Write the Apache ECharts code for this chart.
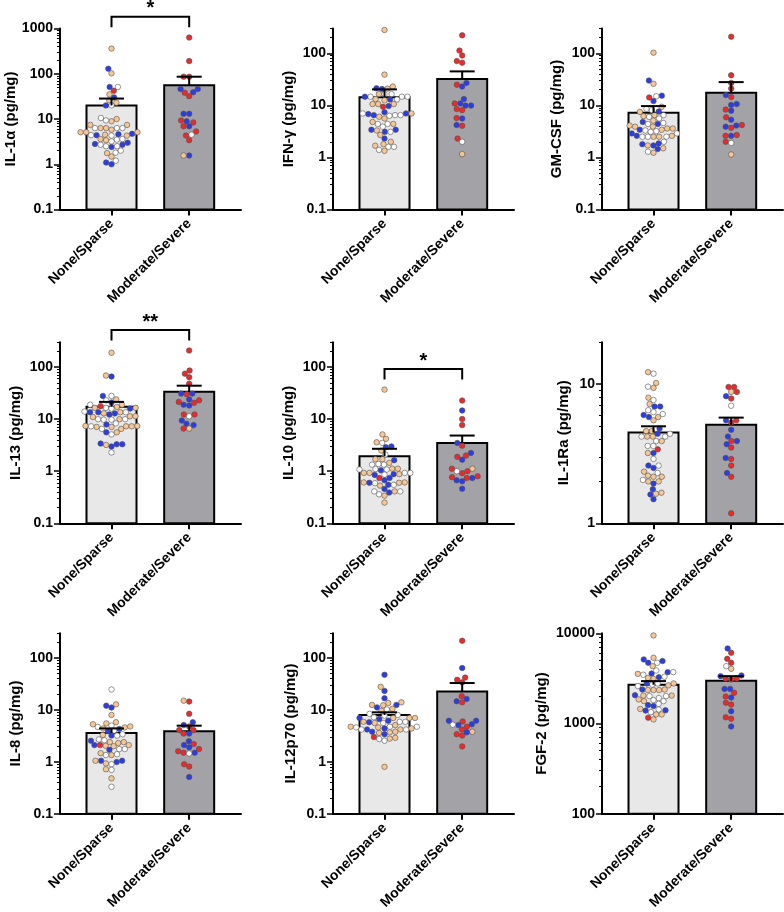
<!DOCTYPE html>
<html><head><meta charset="utf-8">
<script src="https://cdn.jsdelivr.net/npm/echarts@6/dist/echarts.min.js"></script>
<style>html,body{margin:0;padding:0;background:#fff}#c{width:784px;height:912px}</style>
</head><body><div id="c"></div>
<script>
// ---------------- DATA ----------------
const categories = ['None/Sparse', 'Moderate/Severe'];
const panelTitles = ['IL-1α (pg/mg)', 'IFN-γ (pg/mg)', 'GM-CSF (pg/mg)', 'IL-13 (pg/mg)', 'IL-10 (pg/mg)', 'IL-1Ra (pg/mg)', 'IL-8 (pg/mg)', 'IL-12p70 (pg/mg)', 'FGF-2 (pg/mg)'];
const yMin = [0.1, 0.1, 0.1, 0.1, 0.1, 1, 0.1, 0.1, 100];
const yMax = [1000, 300, 300, 300, 300, 20, 300, 300, 10000];
const yTickLabels = [
  [0.1, 1, 10, 100, 1000], [0.1, 1, 10, 100], [0.1, 1, 10, 100],
  [0.1, 1, 10, 100], [0.1, 1, 10, 100], [1, 10],
  [0.1, 1, 10, 100], [0.1, 1, 10, 100], [100, 1000, 10000]
];
const meanValues = [[20, 56], [14.3, 32], [7.2, 17.5], [17.3, 33.6], [1.94, 3.5], [4.5, 5.1], [3.6, 3.9], [8.0, 22.6], [2690, 2970]];
const semTopValues = [[28.3, 86], [20.3, 45], [9.7, 28], [21.5, 44], [2.7, 4.85], [4.98, 5.75], [4.4, 4.97], [9.0, 33], [2950, 3350]];
const sigPanel = [0, 3, 4];
const sigLabel = ['*', '**', '*'];
const sigLevel = [1820, 517, 92];
// subgroup codes: T tan, B blue, W white, R red
const il1aNone = [[360,'T'],[129,'B'],[102,'T'],[51,'B'],[51,'W'],[42,'R'],[35,'T'],[30,'B'],[26,'T'],[23,'T'],[20,'W'],[20,'B'],[10,'T'],[8.9,'T'],[10.5,'W'],[9.3,'W'],[7.4,'T'],[6.3,'T'],[6.3,'W'],[6.3,'T'],[6.3,'W'],[7.4,'T'],[6.3,'W'],[5.1,'T'],[4.6,'B'],[4.4,'B'],[4.3,'W'],[4.4,'W'],[4.5,'T'],[4.7,'B'],[5.1,'T'],[5.1,'T'],[5.8,'T'],[4.3,'T'],[3.5,'W'],[3.2,'W'],[3.6,'W'],[2.8,'B'],[3.4,'T'],[2.7,'W'],[3.0,'B'],[2.7,'B'],[3.6,'T'],[2.4,'B'],[2.5,'W'],[2.5,'W'],[1.8,'W'],[2.0,'W'],[1.76,'T'],[1.48,'T'],[1.2,'W'],[1.0,'B'],[1.09,'B']];
const il1aMod = [[631,'R'],[191,'R'],[86,'R'],[86,'R'],[39,'B'],[38,'R'],[46,'B'],[46,'B'],[32,'R'],[13,'B'],[13,'B'],[8.9,'B'],[9.3,'R'],[8.4,'R'],[6.9,'B'],[6.9,'R'],[5.3,'R'],[4.5,'W'],[4.3,'R'],[3.4,'R'],[1.56,'B'],[1.56,'T']];
const ifngNone = [[281,'T'],[39,'T'],[23,'T'],[21,'T'],[20.6,'B'],[21.3,'B'],[16.5,'W'],[14.7,'W'],[16.5,'T'],[16.5,'W'],[14.7,'W'],[13,'B'],[14.7,'B'],[14.7,'W'],[13,'W'],[13.2,'T'],[12.5,'T'],[10.6,'T'],[10.6,'T'],[9.7,'B'],[10.6,'T'],[9.4,'R'],[7.4,'B'],[6.8,'B'],[6.5,'W'],[6.5,'B'],[6.05,'T'],[6.5,'W'],[7,'B'],[7,'W'],[7,'T'],[6.3,'W'],[5.6,'T'],[4.4,'W'],[4.4,'W'],[4.4,'T'],[4.8,'T'],[3.9,'W'],[3.4,'B'],[3.1,'B'],[3.1,'W'],[3.4,'B'],[3.3,'T'],[2.3,'B'],[2.7,'T'],[2.0,'T'],[1.8,'T'],[1.6,'W'],[1.68,'T'],[1.6,'W'],[1.34,'T'],[1.4,'W']];
const ifngMod = [[222,'R'],[113,'R'],[91,'R'],[66,'R'],[71,'R'],[27,'B'],[23,'B'],[25,'R'],[9.9,'B'],[10.9,'B'],[10.9,'R'],[13.2,'B'],[9.9,'B'],[8.5,'R'],[8.1,'R'],[5.7,'R'],[5.6,'B'],[4.2,'B'],[4.06,'R'],[2.3,'R'],[2.0,'W'],[1.16,'T']];
const gmcsfNone = [[103,'T'],[30,'B'],[26,'T'],[15.4,'B'],[15,'W'],[12.1,'B'],[14.2,'R'],[9.4,'T'],[8.1,'W'],[8.6,'W'],[7.5,'T'],[7.6,'B'],[6.5,'T'],[6.0,'W'],[6.2,'T'],[6.5,'W'],[4.6,'W'],[4.8,'B'],[5.6,'W'],[4.4,'B'],[4.4,'W'],[5.1,'T'],[4.1,'T'],[3.9,'T'],[3.9,'T'],[3.6,'T'],[3.6,'T'],[3.4,'T'],[3.4,'B'],[3.3,'W'],[3.2,'W'],[2.9,'B'],[2.9,'W'],[3.1,'W'],[2.6,'B'],[2.5,'T'],[2.6,'T'],[2.5,'W'],[2.5,'T'],[2.5,'W'],[2.5,'W'],[2.0,'W'],[1.7,'B'],[1.86,'B'],[1.8,'B'],[1.7,'T'],[1.5,'T'],[1.45,'B'],[1.29,'W'],[1.23,'T']];
const gmcsfMod = [[209,'R'],[38,'R'],[27,'R'],[21,'R'],[15.8,'B'],[14.5,'R'],[10.6,'B'],[10.2,'B'],[7.9,'B'],[8.3,'R'],[5.9,'R'],[5.3,'B'],[3.9,'B'],[3.7,'R'],[4.2,'R'],[4.1,'B'],[2.7,'R'],[2.6,'B'],[2.6,'R'],[2.0,'R'],[1.9,'W'],[1.14,'T']];
const il13None = [[189,'T'],[69,'T'],[66,'B'],[28,'W'],[28,'B'],[21,'B'],[24,'T'],[23,'W'],[19,'T'],[17.8,'R'],[16,'W'],[16.5,'W'],[19,'W'],[16.5,'T'],[16.5,'T'],[17.2,'T'],[16,'B'],[13.6,'T'],[13.6,'B'],[13,'T'],[12.9,'B'],[14,'W'],[13.6,'W'],[13.6,'B'],[12.3,'B'],[10,'T'],[9.8,'W'],[10,'W'],[11.4,'T'],[11,'T'],[11.4,'T'],[9.8,'W'],[10,'W'],[8.3,'W'],[7.9,'B'],[7.1,'T'],[7.4,'T'],[6.5,'W'],[7.1,'T'],[7.3,'T'],[7.3,'T'],[7.3,'W'],[7.4,'T'],[6.5,'T'],[5.6,'B'],[5.6,'T'],[5.1,'W'],[3.4,'B'],[3.3,'B'],[3.3,'B'],[3.0,'B'],[3.2,'T'],[2.3,'W']];
const il13Mod = [[209,'R'],[86,'R'],[75,'R'],[64,'R'],[48,'R'],[30,'R'],[31,'B'],[31,'B'],[24,'B'],[23,'R'],[20.6,'R'],[21.5,'R'],[18.3,'B'],[19,'B'],[12.3,'R'],[11.4,'W'],[12.3,'R'],[9.4,'B'],[7.7,'B'],[8.2,'B'],[6.6,'T'],[6.6,'R']];
const il10None = [[37,'T'],[5.1,'T'],[4.2,'T'],[3.6,'T'],[3.5,'W'],[3.0,'B'],[2.9,'B'],[2.5,'T'],[2.1,'W'],[1.7,'T'],[1.7,'T'],[1.63,'B'],[1.45,'T'],[1.34,'W'],[1.38,'W'],[1.34,'W'],[1.12,'T'],[1.08,'W'],[1.1,'W'],[1.04,'B'],[1.08,'W'],[1.12,'T'],[0.88,'B'],[0.88,'T'],[0.86,'W'],[0.93,'T'],[0.93,'W'],[0.93,'T'],[0.93,'W'],[0.85,'B'],[0.744,'B'],[0.67,'B'],[0.61,'T'],[0.6,'T'],[0.61,'T'],[0.6,'B'],[0.59,'W'],[0.55,'B'],[0.55,'W'],[0.74,'R'],[0.53,'T'],[0.457,'B'],[0.41,'T'],[0.41,'W'],[0.41,'W'],[0.36,'W'],[0.39,'B'],[0.34,'T'],[0.25,'T']];
const il10Mod = [[22.8,'R'],[14.7,'B'],[10.1,'R'],[7.7,'R'],[3.5,'B'],[3.1,'R'],[2.0,'R'],[1.89,'R'],[2.25,'B'],[1.67,'B'],[1.12,'R'],[0.92,'R'],[1.0,'W'],[1.0,'R'],[1.12,'T'],[0.8,'R'],[0.74,'R'],[0.67,'B'],[0.64,'B'],[0.77,'R'],[0.74,'B'],[0.46,'B']];
const il1raNone = [[12.2,'T'],[11.9,'W'],[10.2,'T'],[9.6,'W'],[9.4,'T'],[8.0,'T'],[7.7,'W'],[7.2,'T'],[6.9,'B'],[6.9,'B'],[6.5,'W'],[6.3,'W'],[6.0,'B'],[6.1,'W'],[5.8,'B'],[5.8,'T'],[5.5,'T'],[4.8,'B'],[4.6,'T'],[4.6,'T'],[4.2,'T'],[4.4,'B'],[4.2,'T'],[4.2,'W'],[4.4,'W'],[4.2,'W'],[3.9,'W'],[3.9,'T'],[3.4,'R'],[3.6,'W'],[3.6,'W'],[3.2,'B'],[3.2,'T'],[2.9,'W'],[2.6,'B'],[2.5,'B'],[2.6,'W'],[2.35,'T'],[2.3,'W'],[2.16,'T'],[2.16,'T'],[2.2,'T'],[2.0,'T'],[2.05,'W'],[1.93,'B'],[2.0,'T'],[1.76,'B'],[1.61,'B'],[1.63,'T'],[1.66,'T'],[1.49,'B']];
const il1raMod = [[8.8,'T'],[8.8,'R'],[9.55,'R'],[9.55,'R'],[7.9,'R'],[8.2,'B'],[7.0,'W'],[5.5,'B'],[5.5,'R'],[5.3,'R'],[4.7,'B'],[4.2,'B'],[3.9,'R'],[3.9,'B'],[3.7,'B'],[3.5,'R'],[2.9,'R'],[2.95,'B'],[2.6,'R'],[2.3,'B'],[2.16,'R'],[1.18,'R']];
const il8None = [[24.8,'W'],[12.1,'B'],[11.1,'B'],[12.8,'T'],[8.0,'T'],[5.5,'T'],[5.0,'W'],[5.8,'T'],[5.3,'T'],[4.8,'T'],[4.7,'W'],[4.6,'T'],[4.4,'T'],[4.3,'B'],[4.0,'W'],[3.9,'B'],[3.3,'T'],[3.2,'B'],[3.4,'W'],[3.2,'W'],[2.55,'B'],[2.4,'T'],[2.7,'W'],[2.6,'W'],[2.3,'T'],[2.4,'T'],[2.04,'T'],[2.1,'R'],[2.0,'T'],[2.1,'B'],[1.76,'W'],[2.1,'T'],[1.76,'W'],[1.7,'B'],[1.47,'T'],[1.35,'T'],[1.4,'W'],[1.35,'W'],[1.05,'B'],[1.05,'B'],[1.05,'T'],[0.99,'B'],[0.93,'T'],[0.9,'W'],[0.72,'T'],[0.7,'W'],[0.48,'T'],[0.33,'W']];
const il8Mod = [[14.5,'R'],[15.1,'T'],[8.4,'R'],[5.8,'B'],[5.1,'B'],[4.8,'R'],[4.1,'R'],[4.1,'R'],[3.5,'B'],[3.5,'R'],[2.5,'B'],[2.1,'B'],[2.2,'R'],[1.9,'B'],[1.76,'R'],[1.5,'R'],[1.5,'B'],[1.45,'W'],[1.6,'R'],[0.81,'R'],[0.9,'R'],[0.51,'B']];
const il12None = [[47.6,'B'],[23.3,'B'],[27.9,'T'],[16.8,'B'],[14,'T'],[13.6,'T'],[12.5,'B'],[12.3,'T'],[12.5,'T'],[11.2,'B'],[10.2,'W'],[9.6,'T'],[10.5,'T'],[8.4,'W'],[8.0,'W'],[7.8,'W'],[7.0,'T'],[7.0,'T'],[7.0,'B'],[7.2,'W'],[7.0,'T'],[5.9,'W'],[5.6,'W'],[5.9,'W'],[6.2,'B'],[6.7,'B'],[5.9,'T'],[5.8,'B'],[5.6,'T'],[4.75,'W'],[4.6,'T'],[4.75,'W'],[4.4,'B'],[4.6,'W'],[5.1,'T'],[4.75,'T'],[4.4,'T'],[3.7,'T'],[3.8,'T'],[4.2,'T'],[4.2,'B'],[4.2,'W'],[4.2,'W'],[3.8,'B'],[3.6,'T'],[3.4,'B'],[3.0,'R'],[2.75,'W'],[2.8,'T'],[2.55,'W'],[2.9,'T'],[0.8,'T']];
const il12Mod = [[216,'R'],[64,'B'],[38,'R'],[34,'R'],[42,'R'],[18.4,'R'],[14.7,'B'],[14,'R'],[16.3,'B'],[6.0,'R'],[6.2,'B'],[6.2,'B'],[5.1,'B'],[4.75,'R'],[5.2,'W'],[5.3,'B'],[3.8,'T'],[3.4,'R'],[4.2,'R'],[3.2,'R'],[3.7,'B'],[1.98,'R']];
const fgf2None = [[9460,'T'],[5350,'T'],[5130,'B'],[4710,'W'],[4710,'B'],[4920,'B'],[4320,'T'],[3550,'T'],[3580,'B'],[3870,'W'],[3710,'B'],[3260,'B'],[3710,'W'],[3470,'W'],[3300,'W'],[3130,'T'],[3200,'T'],[2780,'W'],[2650,'T'],[2700,'W'],[2600,'W'],[2780,'B'],[2780,'T'],[2380,'B'],[2350,'T'],[2350,'T'],[2380,'T'],[2350,'T'],[2040,'T'],[2040,'T'],[2010,'W'],[2060,'B'],[2010,'W'],[1910,'W'],[1850,'T'],[1820,'W'],[1770,'T'],[1770,'W'],[1560,'B'],[1650,'W'],[1600,'B'],[1430,'W'],[1400,'B'],[1450,'T'],[1390,'B'],[1335,'W'],[1260,'T'],[1260,'T'],[1110,'T'],[1160,'R']];
const fgf2Mod = [[6790,'B'],[6080,'R'],[5210,'R'],[4710,'R'],[4320,'W'],[4040,'T'],[3410,'B'],[3080,'R'],[3160,'R'],[3160,'R'],[3350,'B'],[2420,'B'],[2420,'B'],[1990,'R'],[2190,'R'],[1940,'B'],[1620,'R'],[1700,'R'],[1370,'B'],[1170,'R'],[1130,'R'],[927,'B']];
const pointsNone = [il1aNone, ifngNone, gmcsfNone, il13None, il10None, il1raNone, il8None, il12None, fgf2None];
const pointsMod = [il1aMod, ifngMod, gmcsfMod, il13Mod, il10Mod, il1raMod, il8Mod, il12Mod, fgf2Mod];

// ---------------- STYLE / LAYOUT ----------------
const subgroupColor = { T: '#F6C795', B: '#2B3DE3', W: '#FFFFFF', R: '#EC2A2C' };
const barFill = ['#E8E8E8', '#A2A2A7'];
const gridLeft = [60, 333, 602];
const gridTop = [28.5, 342.3, 633.3];
const gridSize = 181;
const xRange = [-0.663, 1.667];
const nameGaps = [37, 37, 38, 37, 37, 31, 37, 34, 53];
const FONT = "'Liberation Sans', Arial, Helvetica, sans-serif";
const L = Math.log10;

function minorTicks(lo, hi) {
  const out = [];
  for (let d = Math.floor(L(lo)); d <= Math.ceil(L(hi)); d++) {
    for (let m = 2; m <= 9; m++) {
      const v = m * Math.pow(10, d);
      if (v > lo * 1.0001 && v <= hi * 1.0001) out.push(L(v));
    }
  }
  return out;
}
function fmt(v) { return String(Number(Math.pow(10, v).toPrecision(3))); }

const chart = echarts.init(document.getElementById('c'), null, { renderer: 'canvas', width: 784, height: 912 });
const grids = [], xAxes = [], yAxes = [], series = [];

for (let k = 0; k < 9; k++) {
  const col = k % 3, row = Math.floor(k / 3);
  const lo = L(yMin[k]), hi = L(yMax[k]);
  grids.push({ left: gridLeft[col], top: gridTop[row], width: gridSize, height: gridSize });
  xAxes.push({
    type: 'value', gridIndex: k, min: xRange[0], max: xRange[1],
    axisLine: { show: true, onZero: false, lineStyle: { color: '#000', width: 2 } },
    axisTick: { show: true, customValues: [0, 1], length: 6, lineStyle: { color: '#000', width: 2 } },
    axisLabel: { show: true, customValues: [0, 1], formatter: v => categories[Math.round(v)], rotate: 45, margin: 12,
      color: '#000', fontWeight: 'bold', fontSize: 14, fontFamily: FONT },
    splitLine: { show: false }
  });
  yAxes.push({
    type: 'value', gridIndex: k, min: lo, max: hi, position: 'left',
    name: panelTitles[k], nameLocation: 'middle', nameRotate: 90, nameGap: nameGaps[k],
    nameTextStyle: { color: '#000', fontWeight: 'bold', fontSize: 15, fontFamily: FONT },
    axisLine: { show: true, onZero: false, lineStyle: { color: '#000', width: 2 } },
    axisTick: { show: true, customValues: yTickLabels[k].map(L), length: 6, lineStyle: { color: '#000', width: 1.5 } },
    axisLabel: { show: true, customValues: yTickLabels[k].map(L), formatter: fmt, margin: 7,
      color: '#000', fontWeight: 'bold', fontSize: 14, fontFamily: FONT },
    splitLine: { show: false }
  });
  yAxes.push({
    type: 'value', gridIndex: k, min: lo, max: hi, position: 'left', offset: 0,
    axisLine: { show: false, onZero: false },
    axisTick: { show: true, customValues: minorTicks(yMin[k], yMax[k]), length: 3, lineStyle: { color: '#000', width: 1 } },
    axisLabel: { show: false },
    splitLine: { show: false }
  });
  const yBase = lo;
  series.push({
    type: 'custom', xAxisIndex: k, yAxisIndex: 2 * k, z: 2, clip: false,
    data: meanValues[k].map((m, i) => [i, L(m)]),
    renderItem: (params, api) => {
      const x = api.value(0);
      const top = api.coord([x, api.value(1)]);
      const base = api.coord([x, yBase]);
      return { type: 'rect', shape: { x: top[0] - 25, y: top[1], width: 50, height: base[1] - top[1] },
        style: { fill: barFill[x], stroke: '#000', lineWidth: 2 } };
    }
  });
  series.push({
    type: 'custom', xAxisIndex: k, yAxisIndex: 2 * k, z: 5, clip: false,
    data: meanValues[k].map((m, i) => [i, L(m), L(semTopValues[k][i])]),
    renderItem: (params, api) => {
      const x = api.value(0);
      const a = api.coord([x, api.value(1)]);
      const b = api.coord([x, api.value(2)]);
      return { type: 'group', children: [
        { type: 'line', shape: { x1: a[0], y1: a[1], x2: b[0], y2: b[1] }, style: { stroke: '#000', lineWidth: 2 } },
        { type: 'line', shape: { x1: b[0] - 12.5, y1: b[1], x2: b[0] + 12.5, y2: b[1] }, style: { stroke: '#000', lineWidth: 2 } }
      ] };
    }
  });
  const si = sigPanel.indexOf(k);
  if (si >= 0) {
    series.push({
      type: 'custom', xAxisIndex: k, yAxisIndex: 2 * k, z: 5, clip: false,
      data: [[0, 1, L(sigLevel[si])]],
      renderItem: (params, api) => {
        const p0 = api.coord([api.value(0), api.value(2)]);
        const p1 = api.coord([api.value(1), api.value(2)]);
        return { type: 'group', children: [
          { type: 'polyline', shape: { points: [[p0[0], p0[1] + 10.5], [p0[0], p0[1]], [p1[0], p1[1]], [p1[0], p1[1] + 10.5]] },
            style: { stroke: '#000', lineWidth: 2, fill: null } },
          { type: 'text', x: (p0[0] + p1[0]) / 2, y: p0[1] - 8,
            style: { text: sigLabel[si], fill: '#000', font: 'bold 20px ' + FONT, align: 'center', verticalAlign: 'middle' } }
        ] };
      }
    });
  }
}

chart.setOption({ animation: false, backgroundColor: '#fff', grid: grids, xAxis: xAxes, yAxis: yAxes, series: series });

// beeswarm jitter computed from pixel scale of the library's axes
function beeswarm(logVals, pxPerLog, pxPerX, d) {
  const idx = logVals.map((v, i) => i).sort((a, b) => logVals[a] - logVals[b]);
  const placed = [], out = new Array(logVals.length);
  for (const i of idx) {
    const y = logVals[i] * pxPerLog;
    const ivs = [];
    for (const p of placed) {
      const dy = Math.abs(p.y - y);
      if (dy < d) { const h = Math.sqrt(d * d - dy * dy); ivs.push([p.x - h, p.x + h]); }
    }
    const cands = [0];
    ivs.forEach(iv => cands.push(iv[0], iv[1]));
    cands.sort((a, b) => (Math.abs(a) - Math.abs(b)) || (a - b));
    let x = 0;
    for (const c of cands) {
      if (ivs.every(iv => c <= iv[0] + 1e-6 || c >= iv[1] - 1e-6)) { x = c; break; }
    }
    placed.push({ x, y });
    out[i] = x / pxPerX;
  }
  return out;
}

const scatterSeries = [];
for (let k = 0; k < 9; k++) {
  const lo = L(yMin[k]);
  const p0 = chart.convertToPixel({ xAxisIndex: k, yAxisIndex: 2 * k }, [0, lo]);
  const p1 = chart.convertToPixel({ xAxisIndex: k, yAxisIndex: 2 * k }, [1, lo + 1]);
  const pxPerX = p1[0] - p0[0], pxPerLog = p0[1] - p1[1];
  const data = [];
  [pointsNone[k], pointsMod[k]].forEach((grp, g) => {
    const logs = grp.map(p => L(p[0]));
    const jit = beeswarm(logs, pxPerLog, pxPerX, 5.6);
    grp.forEach((p, i) => data.push([g + jit[i], logs[i], p[1]]));
  });
  scatterSeries.push({
    type: 'scatter', xAxisIndex: k, yAxisIndex: 2 * k, z: 4, symbol: 'circle', symbolSize: 5.5,
    data: data,
    itemStyle: { color: p => subgroupColor[p.value[2]], borderColor: '#505050', borderWidth: 0.6, opacity: 1 }
  });
}
chart.setOption({ series: series.concat(scatterSeries) });
</script>
</body></html>
